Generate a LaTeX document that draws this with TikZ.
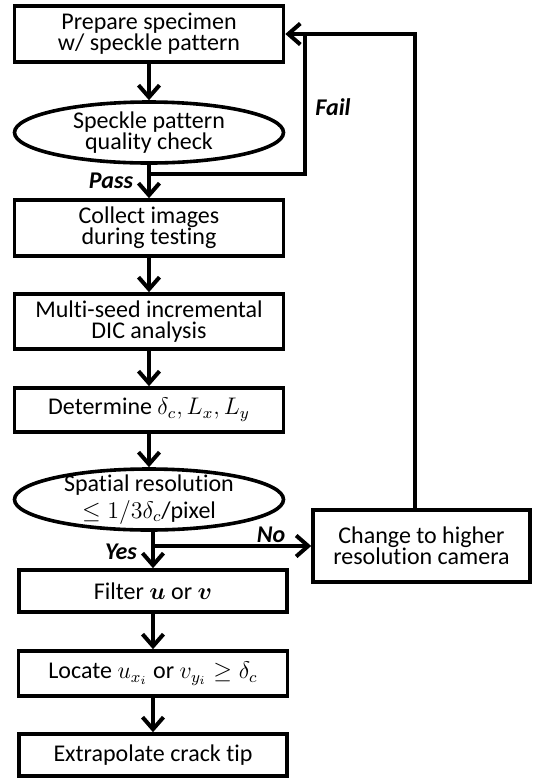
\documentclass[tikz,border=0pt]{standalone}
\usepackage{amsmath,bm}
\usepackage{fontspec}
\setmainfont{Carlito}[Ligatures=NoCommon]
\usetikzlibrary{arrows.meta,shapes.geometric}

\tikzset{
	stepbox/.style={draw,line width=1.8pt,minimum width=134.5pt,minimum height=28pt,inner sep=1pt,align=center,font=\fontsize{12}{10.5}\selectfont},
	checkbox/.style={ellipse,draw,line width=1.8pt,minimum width=134.5pt,minimum height=30.5pt,inner sep=0pt,align=center,font=\fontsize{12}{10.5}\selectfont},
	flow/.style={line width=2pt,-{Straight Barb[length=6pt,width=10.5pt]}},
	link/.style={line width=2pt},
	answer/.style={font=\fontsize{12}{12}\selectfont\bfseries\itshape}
}

\begin{document}
\begin{tikzpicture}[x=0.5pt,y=-0.5pt]
		
		\useasboundingbox (0,0) rectangle (538,784);
		
		%Main column
		\def\xa{149}
		\def\xb{153}
		
		%Placing steps
		\node[stepbox] (prep) at (\xa,34) {Prepare specimen\\w/ speckle pattern};
		\node[checkbox] (check) at (\xa,132.5) {Speckle pattern\\quality check};
		\node[stepbox] (collect) at (\xa,228) {Collect images\\during testing};
		\node[stepbox,minimum height=27.5pt] (dic) at (\xa,321.5) {Multi-seed incremental\\DIC analysis};
		\node[stepbox,minimum height=22pt] (det) at (\xa,410) {Determine $\delta_c, L_x, L_y$};
		\node[checkbox,inner ysep=-2.5pt,font=\fontsize{12}{13.5}\selectfont] (res) at (\xa,499.5) {Spatial resolution\\$\leq 1/3\delta_c$/pixel};
		\node[stepbox,minimum width=134pt,minimum height=21pt] (filter) at (\xb,591) {Filter $\bm{u}$ or $\bm{v}$};
		\node[stepbox,minimum height=22.5pt] (locate) at (\xb,673.5) {Locate $u_{x_i}$ or $v_{y_i} \geq \delta_c$};
		\node[stepbox,minimum width=134pt,minimum height=21pt] (extra) at (\xb,755) {Extrapolate crack tip};
		\node[stepbox,minimum width=108.5pt,minimum height=36pt] (camera) at (421.5,546) {Change to higher\\resolution camera};
		
		%Marking coordinates
		\coordinate (pass) at (\xa,174);
		\coordinate (failtop) at (305,34);
		\coordinate (loop) at (415,34);
		\coordinate (no) at (\xb,546);
		
		%Drawing the flow
		\draw[flow] (prep) -- (check);
		\draw[flow] (check) -- (collect);
		\draw[flow] (collect) -- (dic);
		\draw[flow] (dic) -- (det);
		\draw[flow] (det) -- (res);
		\draw[flow] (filter.north |- res.south) -- (filter);
		\draw[flow] (filter) -- (locate);
		\draw[flow] (locate) -- (extra);
		
		%Drawing the loops back
		\draw[link] (pass) -| (failtop);
		\draw[flow] (camera.north -| loop) -- (loop) -- (prep.east);
		\draw[flow] (no) -- (camera);
		
		%Labels
		\node[answer] (passlbl) at (111,181) {Pass};
		\node[answer] (faillbl) at (333,107) {Fail};
		\node[answer] (nolbl) at (271,535) {No};
		\node[answer] (yeslbl) at (121,552) {Yes};
	\end{tikzpicture}
\end{document}
